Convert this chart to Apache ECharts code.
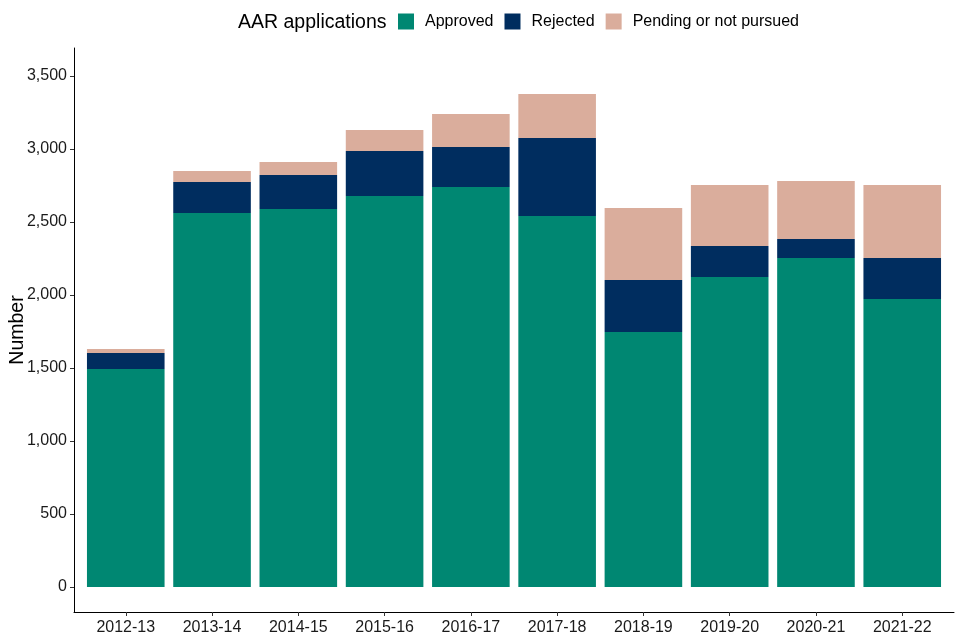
<!DOCTYPE html>
<html>
<head>
<meta charset="utf-8">
<script src="https://cdn.jsdelivr.net/npm/echarts@6/dist/echarts.min.js"></script>
<style>html,body{margin:0;padding:0;background:#fff}#c{width:960px;height:640px}</style>
</head>
<body>
<div id="c"></div>
<script>
const categories = ['2012-13','2013-14','2014-15','2015-16','2016-17','2017-18','2018-19','2019-20','2020-21','2021-22'];
const approved = [1493, 2562, 2589, 2678, 2740, 2541, 1747, 2123, 2253, 1973];
const rejected = [110, 212, 233, 308, 274, 534, 356, 213, 131, 280];
const pending  = [27, 75, 89, 144, 226, 302, 493, 417, 397, 500];
const yTicks = [0, 500, 1000, 1500, 2000, 2500, 3000, 3500];
const xTicks = categories.map((c, i) => i);

const font = 'Liberation Sans, Arial, sans-serif';
const chart = echarts.init(document.getElementById('c'), null, {renderer: 'canvas'});
// value first so that the stacked dimension is the y value
const toPairs = arr => arr.map((v, i) => [v, i]);
const barW = 77.6;
chart.setOption({
  animation: false,
  backgroundColor: '#ffffff',
  title: {
    text: 'AAR applications', left: 238, top: 13, padding: 0,
    textStyle: {fontFamily: font, fontSize: 19.5, fontWeight: 'normal', color: '#000'}
  },
  legend: {
    left: 398, top: 10, padding: 0, itemWidth: 16, itemHeight: 16, itemGap: 11,
    icon: 'rect',
    textStyle: {fontFamily: font, fontSize: 16, color: '#000', lineHeight: 16, padding: [7, 0, 0, 6]},
    data: ['Approved', 'Rejected', 'Pending or not pursued']
  },
  grid: {left: 74, right: 6, top: 48, bottom: 28, containLabel: false, outerBoundsMode: 'none'},
  xAxis: {
    type: 'value', min: -0.6, max: 9.6,
    splitLine: {show: false},
    axisLine: {show: true, onZero: false, lineStyle: {color: '#000', width: 1}},
    axisTick: {show: true, length: 4, lineStyle: {color: '#333'}, customValues: xTicks},
    axisLabel: {
      customValues: xTicks, margin: 8,
      fontFamily: font, fontSize: 16, color: '#1a1a1a',
      formatter: v => categories[Math.round(v)]
    }
  },
  yAxis: {
    type: 'value', min: -171, max: 3692,
    name: 'Number', nameLocation: 'middle', nameGap: 46, nameRotate: 90, nameMoveOverlap: false,
    nameTextStyle: {fontFamily: font, fontSize: 19.5, color: '#000'},
    splitLine: {show: false},
    axisLine: {show: true, onZero: false, lineStyle: {color: '#000', width: 1}},
    axisTick: {show: true, length: 4, lineStyle: {color: '#333'}, customValues: yTicks},
    axisLabel: {
      customValues: yTicks, margin: 7,
      fontFamily: font, fontSize: 16, color: '#1a1a1a',
      formatter: v => v.toLocaleString('en-US')
    }
  },
  series: [
    {name: 'Approved', type: 'bar', stack: 'a', barWidth: barW, encode: {x: 1, y: 0}, data: toPairs(approved), itemStyle: {color: '#008772'}},
    {name: 'Rejected', type: 'bar', stack: 'a', barWidth: barW, encode: {x: 1, y: 0}, data: toPairs(rejected), itemStyle: {color: '#002d5f'}},
    {name: 'Pending or not pursued', type: 'bar', stack: 'a', barWidth: barW, encode: {x: 1, y: 0}, data: toPairs(pending), itemStyle: {color: '#daad9c'}}
  ]
});
</script>
</body>
</html>
